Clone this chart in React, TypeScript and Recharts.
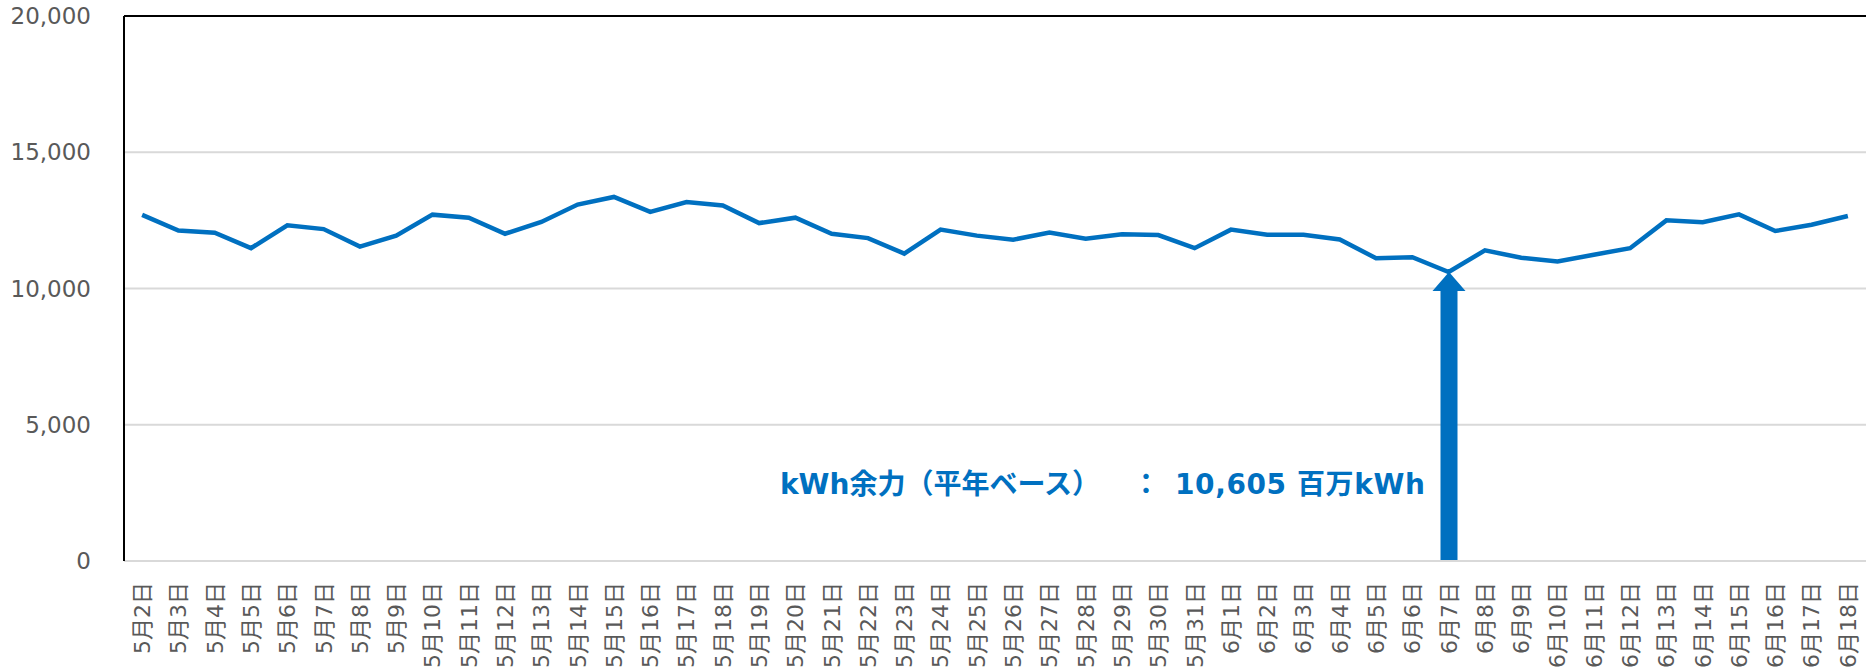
import { Bar, CartesianGrid, ComposedChart, Line, ReferenceLine, XAxis, YAxis } from "recharts";

const DATES = [
  "5月2日", "5月3日", "5月4日", "5月5日", "5月6日", "5月7日", "5月8日", "5月9日",
  "5月10日", "5月11日", "5月12日", "5月13日", "5月14日", "5月15日", "5月16日", "5月17日",
  "5月18日", "5月19日", "5月20日", "5月21日", "5月22日", "5月23日", "5月24日", "5月25日",
  "5月26日", "5月27日", "5月28日", "5月29日", "5月30日", "5月31日",
  "6月1日", "6月2日", "6月3日", "6月4日", "6月5日", "6月6日", "6月7日", "6月8日",
  "6月9日", "6月10日", "6月11日", "6月12日", "6月13日", "6月14日", "6月15日", "6月16日",
  "6月17日", "6月18日",
];

// kWh余力（百万kWh）
const SURPLUS = [
  12700, 12130, 12050, 11480, 12320, 12180, 11540, 11940,
  12710, 12600, 12010, 12440, 13080, 13360, 12810, 13170,
  13050, 12400, 12600, 12010, 11850, 11280, 12160, 11940,
  11790, 12050, 11830, 11990, 11960, 11480,
  12160, 11970, 11970, 11800, 11110, 11150, 10605, 11400,
  11130, 10990, 11240, 11480, 12500, 12430, 12720, 12110,
  12340, 12660,
];

const Y_TICKS = [0, 5000, 10000, 15000, 20000];

const MIN_DATE = "6月7日";
const MIN_VALUE = 10605;

const BLUE = "#0070C0";
const GRAY_TEXT = "#595959";
const GRID = "#D9D9D9";
const FONT = "'DejaVu Sans', 'Noto Sans CJK JP', sans-serif";

const data = DATES.map((date, i) => ({
  date,
  value: SURPLUS[i],
  arrow: date === MIN_DATE ? MIN_VALUE : null,
}));

function DateTick({ x, y, payload }: any) {
  return (
    <g transform={`translate(${x},${y})`}>
      <text
        transform="rotate(-90)"
        x={-13}
        y={0}
        dy="0.36em"
        textAnchor="end"
        fill={GRAY_TEXT}
        fontSize={22}
        fontFamily={FONT}
      >
        {payload.value}
      </text>
    </g>
  );
}

function ArrowShape(props: any) {
  const { x, y, width, height } = props;
  if (!height || height <= 0) return null;
  const cx = x + width / 2;
  const headW = 33;
  const headH = 19;
  return (
    <g>
      <rect x={x} y={y + headH - 1} width={width} height={height - headH + 1} fill={BLUE} />
      <polygon
        points={`${cx - headW / 2},${y + headH} ${cx + headW / 2},${y + headH} ${cx},${y}`}
        fill={BLUE}
      />
    </g>
  );
}

const labelStyle: React.CSSProperties = {
  position: "absolute",
  top: 471,
  color: BLUE,
  fontWeight: "bold",
  fontSize: 28,
  lineHeight: "28px",
  fontFamily: FONT,
  whiteSpace: "pre",
};

export default function App() {
  return (
    <div style={{ position: "absolute", left: 0, top: 0, width: 1866, height: 670, background: "#fff" }}>
      <ComposedChart width={1866} height={670} data={data} margin={{ top: 16, right: 0, left: 0, bottom: 0 }}>
        <CartesianGrid vertical={false} stroke={GRID} strokeWidth={2} />
        <XAxis
          dataKey="date"
          interval={0}
          tickLine={false}
          axisLine={{ stroke: GRID, strokeWidth: 2 }}
          height={109}
          tick={<DateTick />}
        />
        <YAxis
          domain={[0, 20000]}
          ticks={Y_TICKS}
          width={124}
          tickLine={false}
          tickSize={6}
          tickMargin={27}
          axisLine={{ stroke: "#000", strokeWidth: 2 }}
          tick={{ fill: GRAY_TEXT, fontSize: 23, fontFamily: FONT }}
          tickFormatter={(v: number) => v.toLocaleString("en-US")}
        />
        <ReferenceLine y={20000} stroke="#000" strokeWidth={2} />
        <Bar dataKey="arrow" barSize={17} shape={<ArrowShape />} isAnimationActive={false} />
        <Line
          type="linear"
          dataKey="value"
          stroke={BLUE}
          strokeWidth={4.5}
          dot={false}
          activeDot={false}
          isAnimationActive={false}
        />
      </ComposedChart>
      <div style={{ ...labelStyle, left: 780 }}>kWh余力（平年ベース）</div>
      <div style={{ ...labelStyle, left: 1132 }}>：</div>
      <div style={{ ...labelStyle, left: 1175, letterSpacing: 0.6 }}>10,605 百万kWh</div>
    </div>
  );
}
